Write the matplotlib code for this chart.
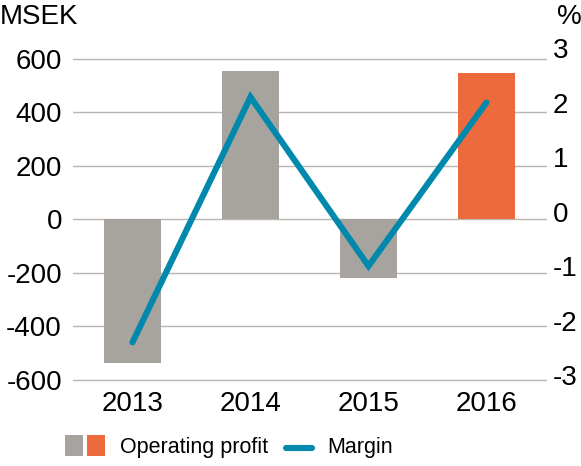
import matplotlib.pyplot as plt
from matplotlib.patches import Rectangle
from matplotlib.lines import Line2D

years = ["2013", "2014", "2015", "2016"]
operating_profit = [-535, 555, -220, 547]   # MSEK
margin = [-2.4, 2.1, -1.0, 2.0]             # %
bar_colors = ["#a7a39e", "#a7a39e", "#a7a39e", "#ec6a3b"]

left_ticks = [-600, -400, -200, 0, 200, 400, 600]
right_ticks = [-3, -2, -1, 0, 1, 2, 3]

W, H = 581, 466

plt.rcParams['font.family'] = ['Liberation Sans', 'DejaVu Sans']

fig = plt.figure(figsize=(W / 100, H / 100), dpi=100)
ax = fig.add_axes([73 / W, 81 / H, 474 / W, 345 / H])
ax2 = ax.twinx()

x = range(len(years))

# gridlines
for t in left_ticks:
    ax.axhline(t, color="#bab6b1", lw=1.0, zorder=0)

ax.bar(x, operating_profit, width=0.483, color=bar_colors, zorder=2)
ax2.plot(x, margin, color="#0089ad", lw=4.4, solid_capstyle="round",
         solid_joinstyle="miter", zorder=3)

ax.set_xlim(-0.504, 3.513)
ax.set_ylim(-618.7, 671)
ax2.set_ylim(-3.183, 3.147)

ax.set_zorder(ax2.get_zorder() - 1)
ax.patch.set_visible(False)

ax.set_xticks(list(x))
ax.set_xticklabels(years)
ax.set_yticks(left_ticks)
ax.set_yticklabels([str(t) for t in left_ticks])
ax2.set_yticks(right_ticks)
ax2.set_yticklabels([str(t) for t in right_ticks])

ax.tick_params(axis="x", length=0, pad=4, labelsize=20)
ax.tick_params(axis="y", length=0, pad=8, labelsize=20)
ax2.tick_params(axis="y", length=0, pad=4, labelsize=20)

for a in (ax, ax2):
    for s in a.spines.values():
        s.set_visible(False)

fig.text(0, 1 - 17 / H, "MSEK", fontsize=20, va="center", ha="left")
fig.text(557 / W, 1 - 17 / H, "%", fontsize=20, va="center", ha="left")

# legend, drawn by hand
fig.patches.append(Rectangle((65 / W, 1 - 456 / H), 18 / W, 21 / H,
                             facecolor="#a7a39e", transform=fig.transFigure))
fig.patches.append(Rectangle((87 / W, 1 - 456 / H), 18 / W, 21 / H,
                             facecolor="#ec6a3b", transform=fig.transFigure))
fig.text(120 / W, 1 - 448 / H, "Operating profit", fontsize=15.5,
         va="center", ha="left")
fig.lines.append(Line2D([286 / W, 312 / W], [1 - 448 / H, 1 - 448 / H],
                        color="#0089ad", lw=4.4, solid_capstyle="round",
                        transform=fig.transFigure))
fig.text(327 / W, 1 - 448 / H, "Margin", fontsize=15.5, va="center", ha="left")

fig.savefig("out.png", dpi=100)
